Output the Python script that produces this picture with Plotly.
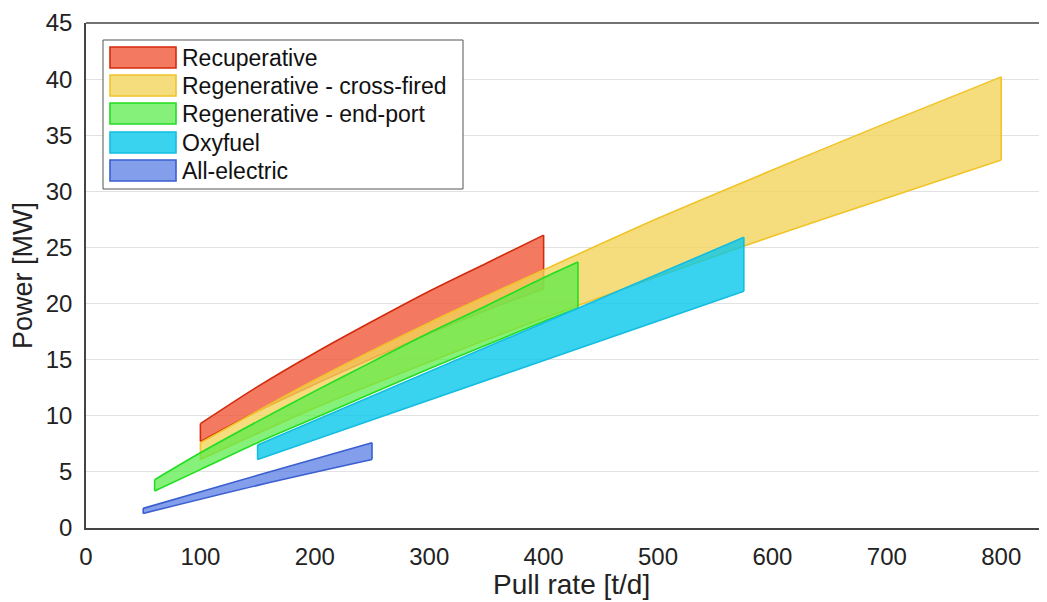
import plotly.graph_objects as go

# ---------------- data ----------------
series_names = ["Recuperative", "Regenerative - cross-fired", "Regenerative - end-port",
                "Oxyfuel", "All-electric"]

recup_x = [100, 150, 200, 250, 300, 350, 400]
recup_hi = [9.3, 12.6, 15.6, 18.4, 21.1, 23.6, 26.1]
recup_lo = [7.7, 10.4, 12.8, 15.1, 17.3, 19.4, 21.3]

cross_x = [100, 200, 300, 400, 500, 600, 700, 800]
cross_hi = [7.6, 13.2, 18.3, 23.0, 27.6, 31.9, 36.1, 40.2]
cross_lo = [6.1, 10.7, 14.8, 18.7, 22.4, 26.0, 29.4, 32.8]

end_x = [60, 100, 150, 200, 250, 300, 350, 400, 430]
end_hi = [4.3, 6.7, 9.5, 12.2, 14.8, 17.4, 19.8, 22.3, 23.7]
end_lo = [3.3, 5.2, 7.6, 9.8, 12.0, 14.2, 16.3, 18.4, 19.6]

oxy_x = [150, 575]
oxy_hi = [7.4, 25.9]
oxy_lo = [6.1, 21.1]

elec_x = [50, 150, 250]
elec_hi = [1.75, 4.7, 7.6]
elec_lo = [1.3, 3.8, 6.1]

x_ticks = [0, 100, 200, 300, 400, 500, 600, 700, 800]
y_ticks = [0, 5, 10, 15, 20, 25, 30, 35, 40, 45]
x_title = "Pull rate [t/d]"
y_title = "Power [MW]"

# ---------------- styles ----------------
fills = ["rgba(240,84,52,0.78)", "rgba(242,211,88,0.78)", "rgba(88,236,70,0.72)",
         "rgba(8,200,236,0.8)", "rgba(72,112,226,0.68)"]
lines = ["#d42a0c", "#f0c428", "#22dd22", "#14bde0", "#3a5fd0"]

bands = [(recup_x, recup_hi, recup_lo), (cross_x, cross_hi, cross_lo),
         (end_x, end_hi, end_lo), (oxy_x, oxy_hi, oxy_lo), (elec_x, elec_hi, elec_lo)]

fig = go.Figure()
for name, (xs, hi, lo), fc, lc in zip(series_names, bands, fills, lines):
    ln = dict(color=lc, width=1.6, shape="spline", smoothing=0.8)
    # upper boundary
    fig.add_trace(go.Scatter(x=xs, y=hi, mode="lines", line=ln,
                             showlegend=False, hoverinfo="skip"))
    # lower boundary, filled up to the upper one
    fig.add_trace(go.Scatter(x=xs, y=lo, mode="lines", line=ln, fill="tonexty",
                             fillcolor=fc, name=name, showlegend=False, hoverinfo="skip"))
    # vertical end edges
    fig.add_trace(go.Scatter(x=[xs[0], xs[0], None, xs[-1], xs[-1]],
                             y=[lo[0], hi[0], None, lo[-1], hi[-1]],
                             mode="lines", line=dict(color=lc, width=1.6),
                             showlegend=False, hoverinfo="skip"))

# page has an 8px body margin; compensate so the plot area lands at
# left 86, top 23, bottom 528, right 1047 in the 1047x602 window
OFF = 8
W, H = 1047 - OFF, 602 - OFF
L, R, T, B = 86 - OFF, 0, 23 - OFF, 74
pw, ph = W - L - R, H - T - B
PLOT_LEFT, PLOT_BOTTOM = 86, 528


def xp(px):
    return (px - PLOT_LEFT) / pw


def yp(py):
    return (PLOT_BOTTOM - py) / ph


font_family = "Liberation Sans, Arial, sans-serif"

shapes = []
annotations = []
# top frame line
shapes.append(dict(type="line", xref="paper", yref="paper", x0=0, x1=1, y0=1, y1=1,
                   line=dict(color="#444444", width=1.5)))
# custom legend
shapes.append(dict(type="rect", xref="paper", yref="paper", x0=xp(103), x1=xp(463),
                   y0=yp(189), y1=yp(40), fillcolor="white",
                   line=dict(color="#555555", width=1)))
row_top = [47, 75, 103, 132, 160]
for i, name in enumerate(series_names):
    t = row_top[i]
    shapes.append(dict(type="rect", xref="paper", yref="paper", x0=xp(110), x1=xp(176),
                       y0=yp(t + 21), y1=yp(t), fillcolor=fills[i],
                       line=dict(color=lines[i], width=1.6)))
    annotations.append(dict(xref="paper", yref="paper", x=xp(180), y=yp(t + 11),
                            xanchor="left", yanchor="middle", text=name, showarrow=False,
                            font=dict(family=font_family, size=23, color="#111111")))

# x-axis title as an annotation so it can sit where the reference has it
annotations.append(dict(xref="paper", yref="paper", x=xp(571), y=yp(584),
                        xanchor="center", yanchor="middle", text=x_title, showarrow=False,
                        font=dict(family=font_family, size=28, color="#222222")))

fig.update_layout(
    width=W, height=H,
    margin=dict(l=L, r=R, t=T, b=B),
    paper_bgcolor="white", plot_bgcolor="white",
    font=dict(family=font_family, color="#222222"),
    showlegend=False,
    shapes=shapes, annotations=annotations,
    xaxis=dict(range=[0, 840], tickvals=x_ticks, ticktext=[str(v) for v in x_ticks],
               showgrid=False, zeroline=False, showline=True, linecolor="#444444",
               linewidth=1.5, ticks="outside", ticklen=6, tickcolor="rgba(0,0,0,0)",
               tickfont=dict(size=24, color="#222222"), automargin=False),
    yaxis=dict(range=[0, 45], tickvals=y_ticks, ticktext=[str(v) for v in y_ticks],
               showgrid=True, gridcolor="#e2e2e2", gridwidth=1, zeroline=False,
               showline=True, linecolor="#444444", linewidth=1.5,
               ticks="outside", ticklen=7, tickcolor="rgba(0,0,0,0)",
               tickfont=dict(size=24, color="#222222"), automargin=False,
               title=dict(text=y_title, font=dict(size=27, color="#222222"),
                          standoff=6)),
)

fig.write_html("out.html")
